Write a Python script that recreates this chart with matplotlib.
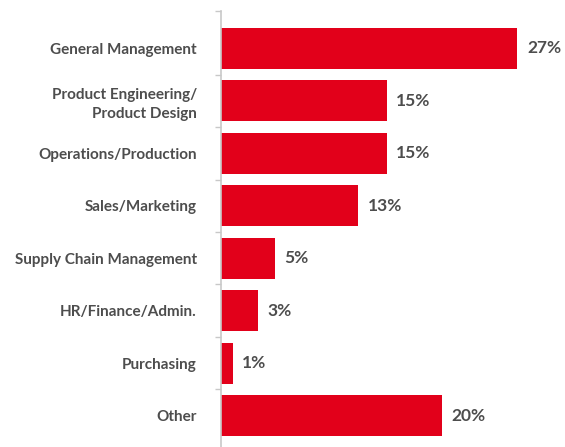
import matplotlib.pyplot as plt

# share of respondents by function (bar lengths)
categories = ["General Management", "Product Engineering/\nProduct Design",
              "Operations/Production", "Sales/Marketing",
              "Supply Chain Management", "HR/Finance/Admin.",
              "Purchasing", "Other"]
values = [27.0, 15.1, 15.1, 12.5, 4.95, 3.4, 1.1, 20.1]
labels = ["27%", "15%", "15%", "13%", "5%", "3%", "1%", "20%"]

red = "#e2001a"
grey = "#4d4d4d"
axis_grey = "#c8c8c8"

plt.rcParams["font.family"] = ["Lato", "DejaVu Sans"]

fig = plt.figure(figsize=(5.65, 4.47), dpi=100)
ax = fig.add_axes([0.3903, -0.0351, 0.584, 1.0105])

pos = list(range(len(categories)))
ax.barh(pos, values, height=0.78, color=red)

for y, v, lab in zip(pos, values, labels):
    ax.annotate(lab, (v, y), xytext=(7, 0), textcoords="offset points",
                va="center", ha="left", fontsize=12.5, fontweight="bold",
                color=grey)

ax.set_xlim(0, 30)
ax.set_ylim(7.9, -0.715)

ax.set_yticks(pos)
ax.set_yticklabels(categories, fontsize=11, fontweight="bold",
                   color=grey, linespacing=1.45)
ax.tick_params(axis="y", which="major", length=0, pad=17)
ax.set_yticks([-0.715] + [i + 0.5 for i in range(len(categories) - 1)],
              minor=True)
ax.tick_params(axis="y", which="minor", length=4, width=1, color=axis_grey)

ax.set_xticks([])
for side in ["top", "right", "bottom"]:
    ax.spines[side].set_visible(False)
ax.spines["left"].set_color(axis_grey)
ax.spines["left"].set_linewidth(1.2)

fig.savefig("out.png", dpi=100)
